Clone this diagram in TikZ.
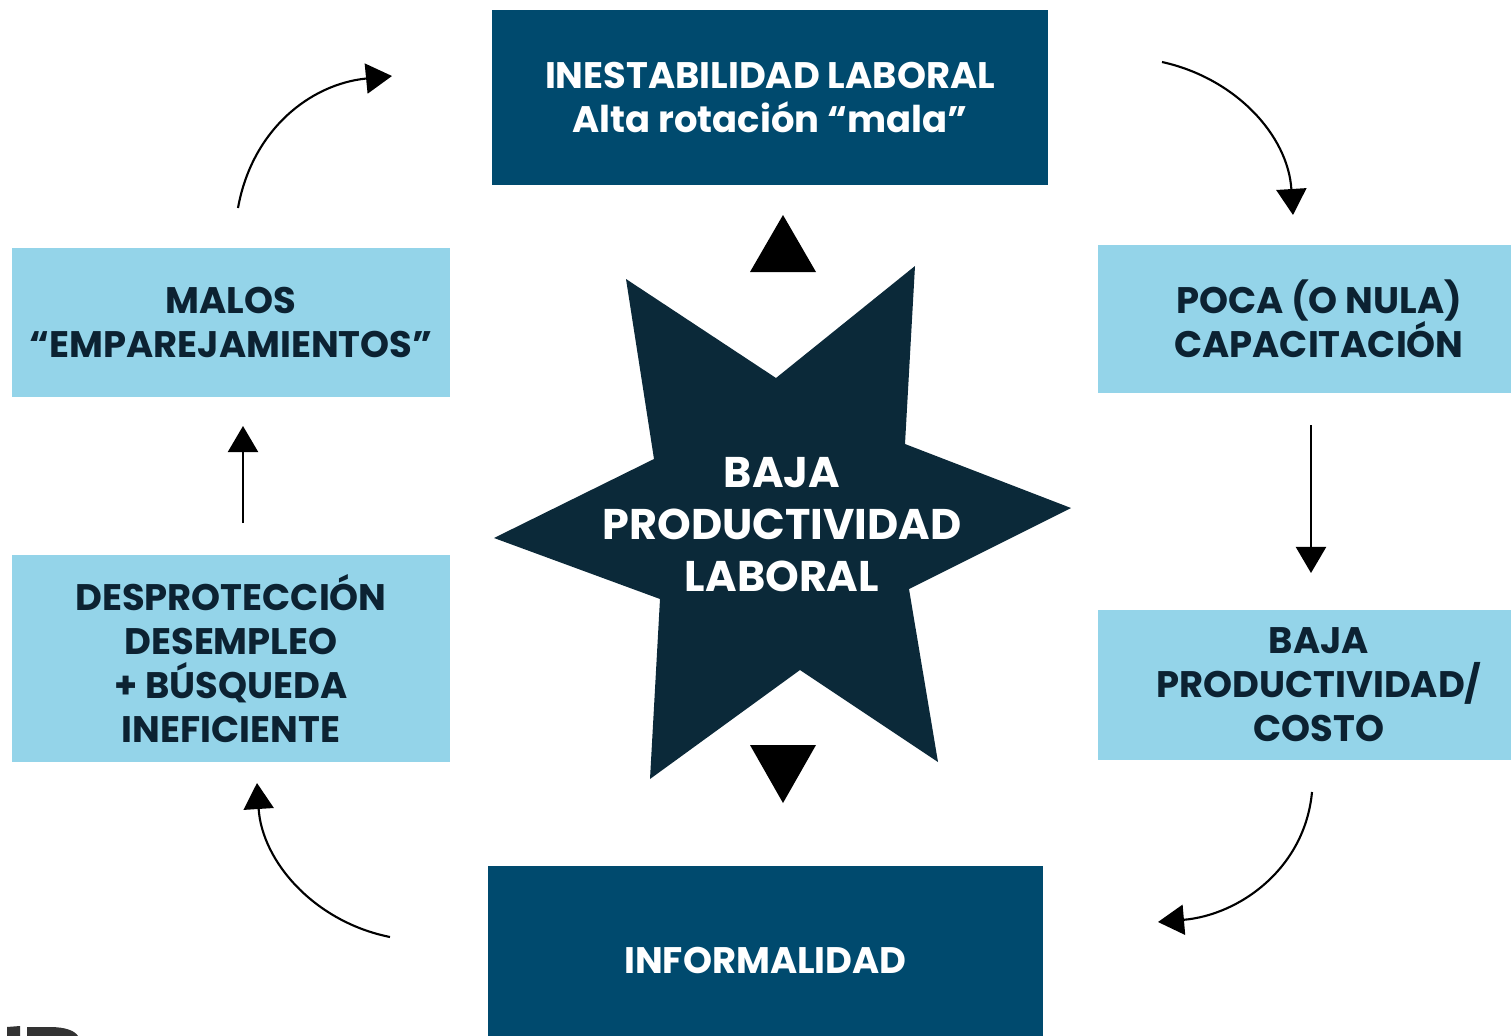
\documentclass[tikz,border=0pt]{standalone}
\usepackage{fontspec}
\setmainfont{Poppins}
\usepackage{xcolor}
\usepackage{tikz}
\usetikzlibrary{shapes,arrows,positioning,calc,arrows.meta}

\definecolor{azuloscuro}{RGB}{0,74,110}
\definecolor{azulclaro}{RGB}{148,212,233}
\definecolor{estrella}{RGB}{11,41,57}
\definecolor{textoscuro}{RGB}{12,34,50}

\tikzset{
    cajaoscura/.style={fill=azuloscuro, text=white, font=\fontsize{10.5}{12.5}\selectfont\bfseries, align=center, inner sep=0pt},
    cajaclara/.style={fill=azulclaro, text=textoscuro, font=\fontsize{10.5}{12.5}\selectfont\bfseries, align=center, inner sep=0pt},
    flecha/.style={line width=0.6pt, -{Triangle[length=0.26cm,width=0.3cm]}}
}

\begin{document}
\begin{tikzpicture}[x=0.01cm, y=-0.01cm]
    \useasboundingbox (0,0) rectangle (1511,1036);
    \clip (0,0) rectangle (1511,1036);

    % Cajas oscuras
    \node[cajaoscura, minimum width=5.56cm, minimum height=1.75cm] (inestab) at (770,97.5) {INESTABILIDAD LABORAL\\Alta rotación “mala”};
    \node[cajaoscura, minimum width=5.55cm, minimum height=1.88cm] (informal) at (765.5,960) {INFORMALIDAD};

    % Cajas claras
    \node[cajaclara, minimum width=4.38cm, minimum height=1.49cm] (malos) at (231,322.5) {MALOS\\“EMPAREJAMIENTOS”};
    \node[cajaclara, minimum width=4.38cm, minimum height=2.07cm] (desprot) at (231,658.5) {DESPROTECCIÓN\\DESEMPLEO\\+ BÚSQUEDA\\INEFICIENTE};
    \node[cajaclara, minimum width=4.42cm, minimum height=1.48cm] (poca) at (1319,319) {POCA (O NULA)\\CAPACITACIÓN};
    \node[cajaclara, minimum width=4.42cm, minimum height=1.50cm] (bajacosto) at (1319,685) {BAJA\\PRODUCTIVIDAD/\\COSTO};

    % Estrella central
    \fill[estrella] (626,279) -- (776,378) -- (915,266) -- (905,444) -- (1071,508) -- (909,589)
        -- (938,762) -- (800,670) -- (650,779) -- (660,599) -- (494,538) -- (654,459) -- cycle;
    \node[text=white, font=\fontsize{12.2}{14.8}\selectfont\bfseries, align=center] (baja) at (782,525) {BAJA\\PRODUCTIVIDAD\\LABORAL};

    % Triangulos
    \fill (750,272) -- (783,215) -- (816,272) -- cycle;
    \fill (750,745) -- (783,803) -- (816,745) -- cycle;

    % Flechas del ciclo
    \coordinate (a1) at (238,208);  \coordinate (b1) at (392,76);
    \coordinate (a2) at (1162,62);  \coordinate (b2) at (1293,215);
    \coordinate (a3) at (1311,425); \coordinate (b3) at (1311,573);
    \coordinate (a4) at (1312,792); \coordinate (b4) at (1158,922);
    \coordinate (a5) at (390,937);  \coordinate (b5) at (257,783);
    \coordinate (a6) at (243,523);  \coordinate (b6) at (243,426);

    \draw[flecha] (a1) .. controls (252,130) and (310,84) .. (b1);
    \draw[flecha] (a2) .. controls (1235,78) and (1288,135) .. (b2);
    \draw[flecha] (a3) -- (b3);
    \draw[flecha] (a4) .. controls (1305,868) and (1240,915) .. (b4);
    \draw[flecha] (a5) .. controls (315,922) and (262,862) .. (b5);
    \draw[flecha] (a6) -- (b6);

    % Logo cortado
    \fill[black!80] (7,1027) -- (20,1026) -- (20,1036) -- (7,1036) -- cycle;
    \fill[black!80] (27,1027) -- (50,1027) .. controls (66,1027) and (75,1031) .. (78,1036) -- (27,1036) -- cycle;
\end{tikzpicture}
\end{document}
